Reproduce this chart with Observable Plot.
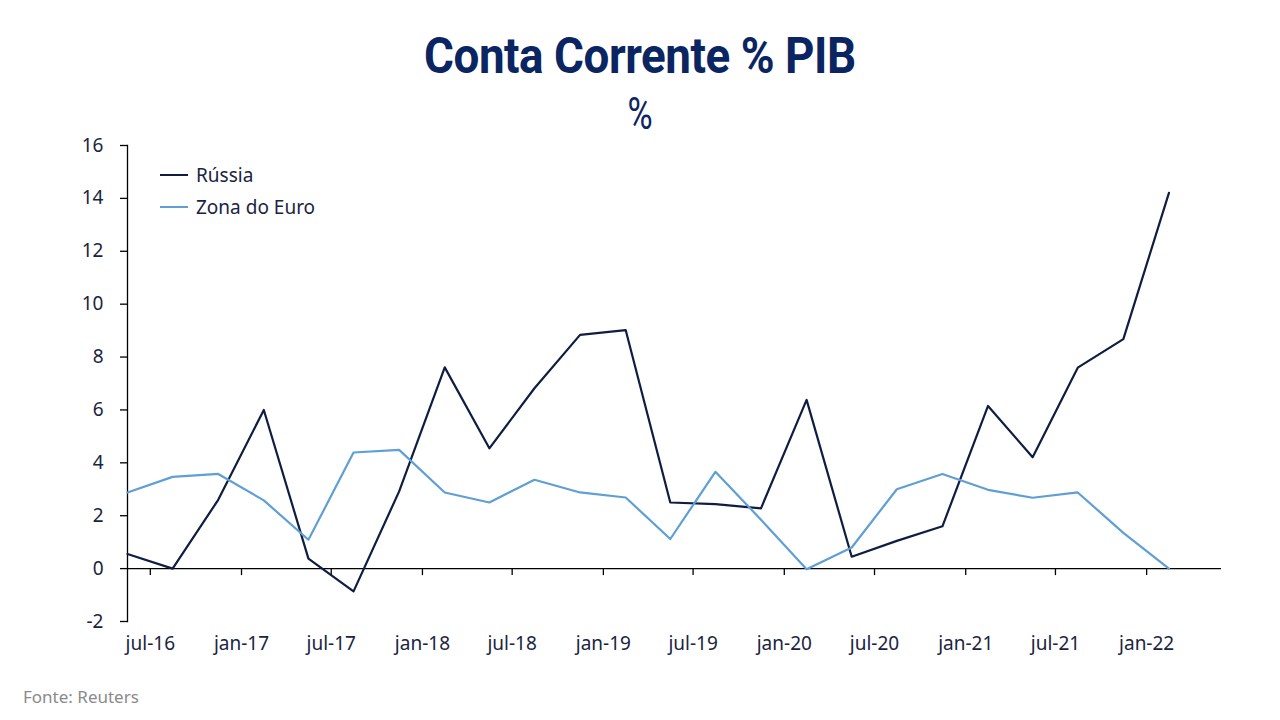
<!DOCTYPE html>
<html>
<head>
<meta charset="utf-8">
<script src="https://cdn.jsdelivr.net/npm/d3@7"></script>
<script src="https://cdn.jsdelivr.net/npm/@observablehq/plot@0.6"></script>
<style>
  html, body { margin: 0; padding: 0; background: #fff; }
  #wrap { position: relative; width: 1280px; height: 720px; overflow: hidden; font-family: "Noto Sans", Roboto, sans-serif; }
  #header { position: relative; height: 130px; }
  #title { position: absolute; left: 0; width: 1280px; top: 26px; text-align: center; font-family: Roboto, sans-serif; font-size: 50px; font-weight: 700; color: #0b2462; letter-spacing: -0.5px; line-height: 60px; }
  #title span { display: inline-block; transform: scaleX(0.915); }
  #subtitle { position: absolute; left: 0; width: 1280px; top: 84px; text-align: center; font-family: Roboto, sans-serif; font-size: 44px; color: #0b2462; line-height: 60px; }
  #subtitle span { display: inline-block; transform: scaleX(0.78); }
  #chart svg { display: block; }
  #legend { position: absolute; left: 160px; top: 159px; font-size: 19px; color: #1a2440; }
  .li { display: flex; align-items: center; height: 32px; }
  .sw { width: 28px; height: 2px; margin-right: 8px; }
  #footer { position: absolute; left: 23px; top: 685px; font-size: 17px; color: #8a8a8a; }
</style>
</head>
<body>
<div id="wrap">
  <div id="header">
    <div id="title"><span>Conta Corrente % PIB</span></div>
    <div id="subtitle"><span>%</span></div>
  </div>
  <div id="chart"></div>
  <div id="legend"></div>
  <div id="footer">Fonte: Reuters</div>
</div>
<script>
// Quarter start dates (Q2 2016 .. Q1 2022)
const quarters = [
  "2016-04-01","2016-07-01","2016-10-01",
  "2017-01-01","2017-04-01","2017-07-01","2017-10-01",
  "2018-01-01","2018-04-01","2018-07-01","2018-10-01",
  "2019-01-01","2019-04-01","2019-07-01","2019-10-01",
  "2020-01-01","2020-04-01","2020-07-01","2020-10-01",
  "2021-01-01","2021-04-01","2021-07-01","2021-10-01",
  "2022-01-01"
];
const russia = [0.55, 0.0, 2.6, 6.0, 0.38, -0.86, 2.92, 7.61, 4.55, 6.82, 8.84, 9.02,
                2.5, 2.44, 2.28, 6.38, 0.45, 1.05, 1.6, 6.15, 4.21, 7.6, 8.68, 14.21];
const euro   = [2.88, 3.47, 3.58, 2.58, 1.09, 4.39, 4.49, 2.88, 2.5, 3.36, 2.88, 2.69,
                1.12, 3.66, 1.85, -0.02, 0.8, 3.0, 3.58, 2.98, 2.68, 2.88, 1.35, 0.0];
const seriesNames = ["Rússia", "Zona do Euro"];
const seriesColors = ["#0f1d40", "#5f9fd4"];
const xTickDates = ["2016-07-01","2017-01-01","2017-07-01","2018-01-01","2018-07-01","2019-01-01",
                    "2019-07-01","2020-01-01","2020-07-01","2021-01-01","2021-07-01","2022-01-01"];
const yTicks = [-2, 0, 2, 4, 6, 8, 10, 12, 14, 16];
const monthNames = ["jan","fev","mar","abr","mai","jun","jul","ago","set","out","nov","dez"];

// Each quarter plotted at its midpoint
const mid = q => d3.utcDay.offset(new Date(q), 45);
const rows = [];
quarters.forEach((q, i) => {
  rows.push({date: mid(q), value: russia[i], series: seriesNames[0]});
  rows.push({date: mid(q), value: euro[i], series: seriesNames[1]});
});
const tickDates = xTickDates.map(d => new Date(d));
const fmt = d => monthNames[d.getUTCMonth()] + "-" + String(d.getUTCFullYear()).slice(2);

const plot = Plot.plot({
  width: 1280,
  height: 550,
  marginLeft: 127,
  marginRight: 59,
  marginTop: 15,
  marginBottom: 59,
  style: {fontFamily: "'Noto Sans', Roboto, sans-serif", fontSize: "19px", color: "#1a2440", background: "#fff"},
  x: {type: "utc", domain: [new Date("2016-05-16"), new Date("2022-06-01")]},
  y: {domain: [-2, 16]},
  color: {domain: seriesNames, range: seriesColors},
  marks: [
    Plot.axisY({ticks: yTicks, tickSize: 7, tickPadding: 17, tickFormat: d => String(d), label: null, stroke: "#000", fill: "#1a2440", strokeWidth: 1.3}),
    Plot.frame({anchor: "left", stroke: "#000", strokeWidth: 1.3}),
    Plot.axisX({ticks: tickDates, tickSize: 0, tickPadding: 15, tickFormat: fmt, label: null, fill: "#1a2440"}),
    Plot.ruleY([0], {stroke: "#000", strokeWidth: 1.3}),
    Plot.ruleX(tickDates, {x: d => d, y1: 0, y2: 0, insetBottom: -7, stroke: "#000", strokeWidth: 1.3}),
    Plot.lineY(rows, {x: "date", y: "value", z: "series", stroke: "series", strokeWidth: 2.2})
  ]
});
document.getElementById("chart").appendChild(plot);

const legend = document.getElementById("legend");
seriesNames.forEach((name, i) => {
  const row = document.createElement("div");
  row.className = "li";
  row.innerHTML = `<div class="sw" style="background:${seriesColors[i]}"></div><div>${name}</div>`;
  legend.appendChild(row);
});
</script>
</body>
</html>
